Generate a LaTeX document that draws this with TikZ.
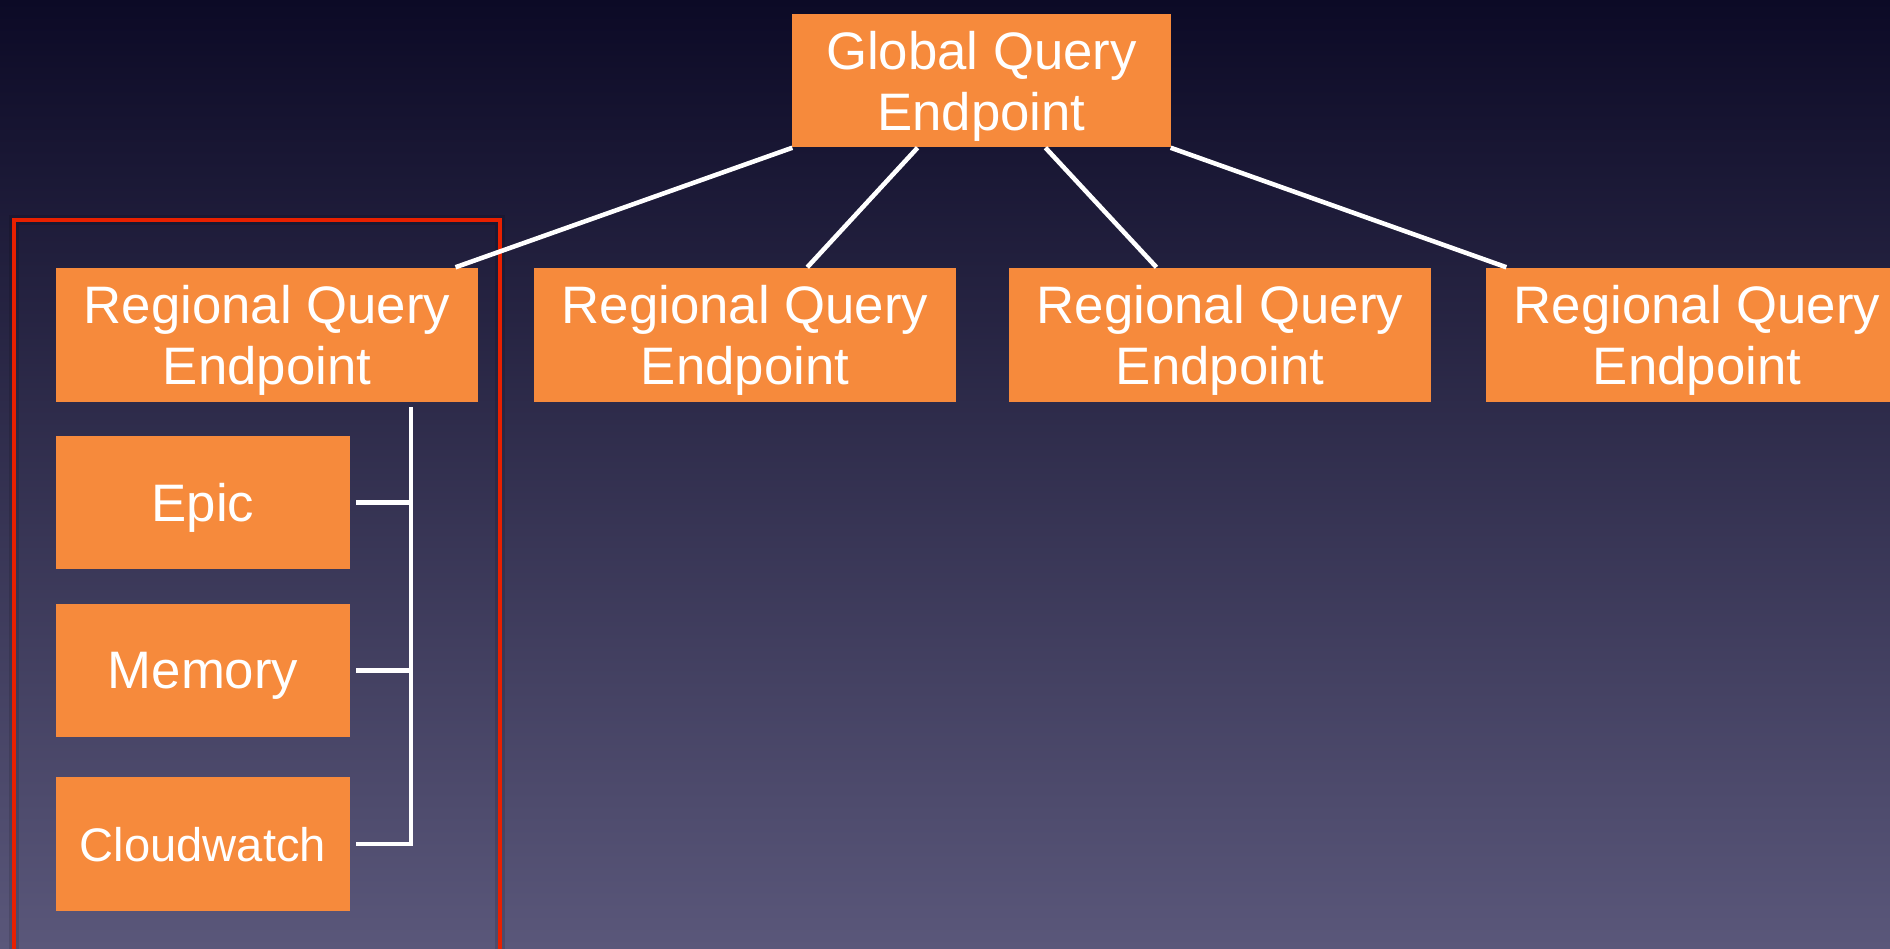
\documentclass[tikz,border=0pt]{standalone}
\usepackage{fontspec}
\setmainfont{Liberation Sans}
\usetikzlibrary{calc}
\definecolor{bgtop}{RGB}{12,10,38}
\definecolor{bgmid}{RGB}{50,48,88}
\definecolor{bgbot}{RGB}{90,87,122}
\definecolor{boxorange}{RGB}{246,138,60}
\definecolor{framered}{RGB}{232,32,0}
\tikzset{
  box/.style={fill=boxorange, draw=none, inner sep=0pt, align=center,
    text=white, font=\fontsize{15}{17.4}\selectfont, text depth=0pt,
    minimum width=4.22cm, minimum height=1.34cm},
  gbox/.style={box, minimum width=3.79cm, minimum height=1.33cm},
  sbox/.style={box, minimum width=2.94cm, minimum height=1.33cm},
  link/.style={draw=white, line width=1.3pt},
  frame/.style={draw=framered, line width=1.1pt}
}
\begin{document}
\begin{tikzpicture}[x=0.01cm, y=-0.01cm]
\useasboundingbox (0,0) rectangle (1890,948);
\clip (0,0) rectangle (1890,948);
\shade[top color=bgtop, middle color=bgmid, bottom color=bgbot] (0,0) rectangle (1890,948);

% red frame with faint dark glow
\draw[black, opacity=0.12, line width=3pt] (14,220) rectangle (500,980);
\draw[frame] (14,220) rectangle (500,980);

\node[gbox] (g) at (981.5,80.5) {Global Query\\Endpoint};
\node[box] (r1) at (267,335) {Regional Query\\Endpoint};
\node[box] (r2) at (745,335) {Regional Query\\Endpoint};
\node[box] (r3) at (1220,335) {Regional Query\\Endpoint};
\node[box] (r4) at (1697,335) {Regional Query\\Endpoint};

\node[sbox] (epic) at (203,502.5) {Epic};
\node[sbox] (mem) at (203,670.5) {Memory};
\node[sbox, font=\fontsize{13.4}{15}\selectfont] (cw) at (203,844) {Cloudwatch};

% global to regional connectors
\draw[link] ($(g.south west)!0.003!(g.south east)$) -- ($(r1.north west)!0.945!(r1.north east)$);
\draw[link] ($(g.south west)!0.332!(g.south east)$) -- ($(r2.north west)!0.647!(r2.north east)$);
\draw[link] ($(g.south west)!0.668!(g.south east)$) -- ($(r3.north west)!0.35!(r3.north east)$);
\draw[link] ($(g.south west)!0.997!(g.south east)$) -- ($(r4.north west)!0.05!(r4.north east)$);

% bracket
\coordinate (bx) at (411,407);
\draw[link] (bx) -- (cw.east -| bx) -- ([xshift=0.05cm]cw.east);
\draw[link] ([xshift=0.05cm]epic.east) -- (epic.east -| bx);
\draw[link] ([xshift=0.05cm]mem.east) -- (mem.east -| bx);
\end{tikzpicture}
\end{document}
